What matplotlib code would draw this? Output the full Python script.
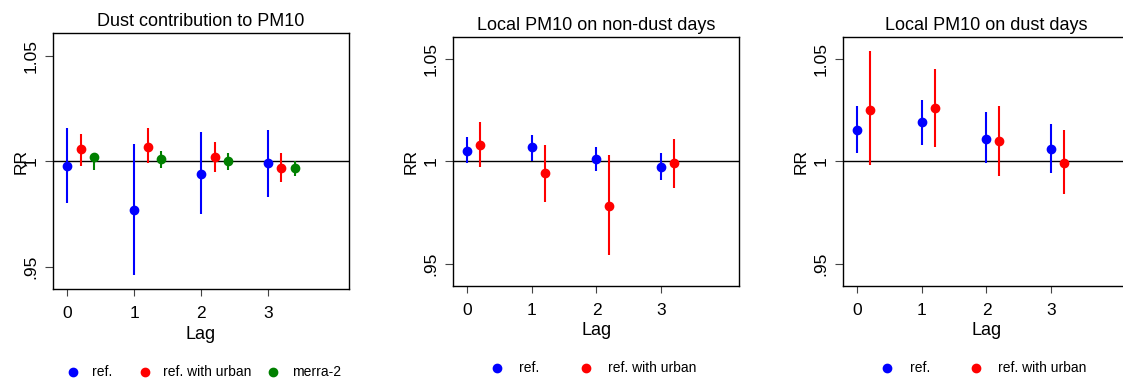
import matplotlib
matplotlib.use("Agg")
import matplotlib.pyplot as plt
from matplotlib.lines import Line2D

plt.rcParams["font.family"] = ["Liberation Sans", "DejaVu Sans"]

# --- donnees ---
lags = [0, 1, 2, 3]

dust_ref = [0.998, 0.977, 0.994, 0.999]
dust_ref_lo = [0.980, 0.946, 0.975, 0.983]
dust_ref_hi = [1.016, 1.008, 1.014, 1.015]
dust_urb = [1.006, 1.007, 1.002, 0.997]
dust_urb_lo = [0.998, 0.999, 0.995, 0.990]
dust_urb_hi = [1.013, 1.016, 1.009, 1.004]
dust_merra = [1.002, 1.001, 1.000, 0.997]
dust_merra_lo = [0.996, 0.997, 0.996, 0.993]
dust_merra_hi = [1.003, 1.005, 1.004, 1.000]

nondust_ref = [1.005, 1.007, 1.001, 0.997]
nondust_ref_lo = [0.999, 1.000, 0.995, 0.991]
nondust_ref_hi = [1.012, 1.013, 1.007, 1.004]
nondust_urb = [1.008, 0.994, 0.978, 0.999]
nondust_urb_lo = [0.997, 0.980, 0.954, 0.987]
nondust_urb_hi = [1.019, 1.008, 1.003, 1.011]

dustday_ref = [1.015, 1.019, 1.011, 1.006]
dustday_ref_lo = [1.004, 1.008, 0.999, 0.994]
dustday_ref_hi = [1.027, 1.030, 1.024, 1.018]
dustday_urb = [1.025, 1.026, 1.010, 0.999]
dustday_urb_lo = [0.998, 1.007, 0.993, 0.984]
dustday_urb_hi = [1.054, 1.045, 1.027, 1.015]

titles = ["Dust contribution to PM10", "Local PM10 on non-dust days", "Local PM10 on dust days"]
ytick_values = [0.95, 1.0, 1.05]
ytick_labels = [".95", "1", "1.05"]
couleurs = {"ref.": "#0000FF", "ref. with urban": "#FF0000", "merra-2": "#008000"}

W, H = 1123, 378
fig = plt.figure(figsize=(W / 100, H / 100), dpi=100)


def px_axes(left, top, right, bottom):
    return fig.add_axes([left / W, 1 - bottom / H, (right - left) / W, (bottom - top) / H])


panneaux = [
    (px_axes(52.7, 33.3, 349, 289.3), [
        ("ref.", dust_ref, dust_ref_lo, dust_ref_hi),
        ("ref. with urban", dust_urb, dust_urb_lo, dust_urb_hi),
        ("merra-2", dust_merra, dust_merra_lo, dust_merra_hi)], -0.0817),
    (px_axes(453, 36.7, 739.3, 285.7), [
        ("ref.", nondust_ref, nondust_ref_lo, nondust_ref_hi),
        ("ref. with urban", nondust_urb, nondust_urb_lo, nondust_urb_hi)], -0.1205),
    (px_axes(843, 36.7, 1129.3, 285.7), [
        ("ref.", dustday_ref, dustday_ref_lo, dustday_ref_hi),
        ("ref. with urban", dustday_urb, dustday_urb_lo, dustday_urb_hi)], -0.1205),
]

for i, (ax, series, ylab_x) in enumerate(panneaux):
    ax.axhline(1, color="black", lw=1.0, zorder=1)
    for k, (nom, est, lo, hi) in enumerate(series):
        x = [l + 0.2 * k for l in lags]
        yerr = [[e - a for e, a in zip(est, lo)], [b - e for e, b in zip(est, hi)]]
        ax.errorbar(x, est, yerr=yerr, fmt="o", color=couleurs[nom], ms=6,
                    elinewidth=1.5, capsize=0, zorder=3)
    ax.set_xlim(-0.22, 4.21)
    ax.set_ylim(0.9392, 1.0608)
    ax.set_xticks(lags)
    ax.set_yticks(ytick_values)
    ax.set_yticklabels(ytick_labels, rotation=90, va="center")
    ax.tick_params(axis="x", length=5.3, pad=6.8, labelsize=12.5, color="#444444")
    ax.tick_params(axis="y", length=5.8, pad=4.5, labelsize=12.5, color="#444444")
    for s in ax.spines.values():
        s.set_linewidth(1.0)
    ax.set_title(titles[i], fontsize=13, pad=5)
    ax.set_xlabel("Lag", fontsize=13)
    ax.xaxis.set_label_coords(0.5, -0.144)
    ax.xaxis.label.set_va("top")
    ax.set_ylabel("RR", fontsize=12.5)
    ax.yaxis.set_label_coords(ylab_x, 0.5)

# legendes sous chaque panneau
legendes = [
    (372, [("ref.", 73, 92), ("ref. with urban", 145, 163), ("merra-2", 273, 292)]),
    (367.7, [("ref.", 497, 519), ("ref. with urban", 586, 608)]),
    (367.7, [("ref.", 887, 910), ("ref. with urban", 976, 998)]),
]
for y, items in legendes:
    for nom, xm, xt in items:
        fig.add_artist(Line2D([xm / W], [1 - y / H], marker="o", ms=6, ls="none",
                              color=couleurs[nom], transform=fig.transFigure))
        fig.text(xt / W, 1 - y / H, nom, fontsize=10, va="center", ha="left")

plt.savefig("out.png", dpi=100)
